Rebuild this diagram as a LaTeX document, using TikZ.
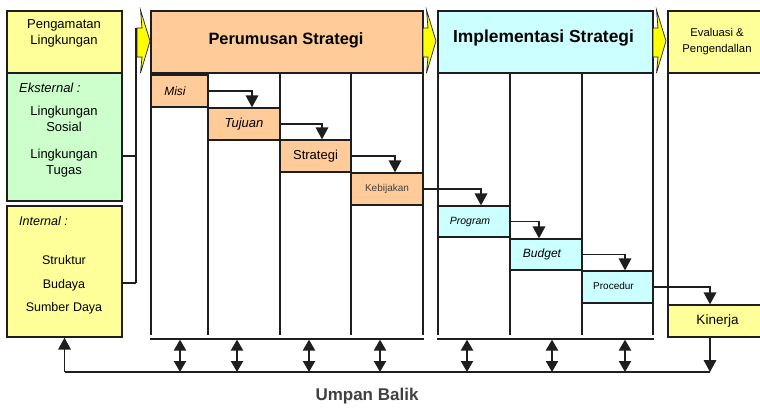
\documentclass[tikz,border=0pt]{standalone}
\usepackage{fontspec}
\setmainfont{Liberation Sans}
\usetikzlibrary{arrows.meta}

\definecolor{ink}{HTML}{1E1E1E}
\definecolor{paleyellow}{HTML}{FFFF99}
\definecolor{palegreen}{HTML}{CCFFCC}
\definecolor{peach}{HTML}{FFCC99}
\definecolor{palecyan}{HTML}{CCFFFF}
\definecolor{chevyellow}{HTML}{FFFF00}
\definecolor{softtext}{HTML}{404040}

\newcommand{\fs}[2]{\fontsize{#1}{#2}\selectfont}

\begin{document}
\begin{tikzpicture}[x=1pt,y=-1pt,
  box/.style={draw=ink, line width=1.2pt, inner sep=0pt},
  stepbox/.style={box, minimum height=32pt},
  rule/.style={draw=ink, line width=1.2pt},
  flow/.style={draw=ink, line width=1.7pt, -{Triangle[width=12.5pt,length=12pt]}},
  twoway/.style={draw=ink, line width=2.2pt,
    {Triangle[width=12pt,length=11pt]}-{Triangle[width=12pt,length=11pt]}},
  txt/.style={inner sep=0pt, align=center, text=black},
  chevron/.pic={
    \filldraw[fill=chevyellow, draw=ink, line width=0.7pt]
      (0,17) -- (5,17) -- (3.5,-1) -- (13,30) -- (3.5,62) -- (5,46) -- (0,46) -- cycle;
  }]

\path[use as bounding box, clip] (0,0) rectangle (760,407);
\fill[white] (0,0) rectangle (760,407);

% ---- left column: environment scanning
\node[box, fill=paleyellow, minimum width=115, minimum height=62] (pengamatan) at (64.5,42) {};
\node[box, fill=palegreen, minimum width=115, minimum height=128] (eksternal) at (64.5,137) {};
\node[box, fill=paleyellow, minimum width=115, minimum height=131] (internal) at (64.5,271.5) {};

\node[txt, font=\fs{13}{16}] (tPeng) at (64,33) {Pengamatan\\Lingkungan};
\node[txt, font=\fs{13}{16}\itshape, anchor=west] (tEks) at (19,88) {Eksternal :};
\node[txt, font=\fs{13}{16}] (tSos) at (64,119) {Lingkungan\\Sosial};
\node[txt, font=\fs{13}{16}] (tTug) at (64,163) {Lingkungan\\Tugas};
\node[txt, font=\fs{12.5}{15}\itshape, anchor=west] (tInt) at (19,221) {Internal :};
\node[txt, font=\fs{12.5}{15}] (tStr) at (64,260) {Struktur};
\node[txt, font=\fs{12.5}{15}] (tBud) at (64,285) {Budaya};
\node[txt, font=\fs{12.5}{15}] (tSum) at (64,308) {Sumber Daya};

% bus linking the environment boxes to the strategy stages
\coordinate (busTop) at (136,28);
\coordinate (busBot) at (136,283);
\draw[rule] (busTop) -- (busBot);
\draw[rule] ([yshift=-19pt]eksternal.east) -- ++(14,0);
\draw[rule] ([yshift=-11.5pt]internal.east) -- (busBot);

% ---- stage headers
\node[box, fill=peach, minimum width=272, minimum height=62] (perumusan) at (287,42) {};
\node[txt, font=\fs{16.4}{18}\bfseries] (tPer) at (286,40) {Perumusan Strategi};
\node[box, fill=palecyan, minimum width=215, minimum height=62] (implementasi) at (545.5,42) {};
\node[txt, font=\fs{17.4}{19}\bfseries] (tImp) at (543.5,38) {Implementasi Strategi};
\node[box, fill=paleyellow, minimum width=104, minimum height=62] (evaluasi) at (720,42) {};
\node[txt, font=\fs{11.3}{15.5}] (tEva) at (717,41.5) {Evaluasi \&\\Pengendallan};

\pic at (137,11) {chevron};
\pic at (423,11) {chevron};
\pic at (653,11) {chevron};

% ---- column rules
\foreach \cx in {151,208,280,351,423,438,510,582,653}
  \draw[rule] (\cx,73) -- (\cx,335);
\draw[rule] (668,73) -- (668,305);
\draw[rule] (150,339) -- (423.6,339);
\draw[rule] (437.4,339) -- (653.6,339);

% ---- steps
\node[stepbox, fill=peach, minimum width=57] (misi) at (179.5,91) {};
\node[txt, font=\fs{12}{14}\itshape] at (175,91) {Misi};
\node[stepbox, fill=peach, minimum width=72, font=\fs{13}{15}\itshape] (tujuan) at (244,124) {Tujuan};
\node[stepbox, fill=peach, minimum width=71, font=\fs{13}{15}] (strategi) at (315.5,156) {Strategi};
\node[stepbox, fill=peach, minimum width=72, font=\fs{10}{12}, text=softtext] (kebijakan) at (387,189) {Kebijakan};
\node[stepbox, fill=palecyan, minimum width=72, minimum height=31] (program) at (474,221.5) {};
\node[txt, font=\fs{10.5}{12}\itshape] at (470,221.5) {Program};
\node[stepbox, fill=palecyan, minimum width=72, minimum height=31] (budget) at (546,254.5) {};
\node[txt, font=\fs{12}{14}\itshape] at (542,254.5) {Budget};
\node[stepbox, fill=palecyan, minimum width=71] (procedur) at (617.5,287) {};
\node[txt, font=\fs{10}{12}] at (613.5,286) {Procedur};
\node[box, fill=paleyellow, minimum width=104, minimum height=32, font=\fs{13.5}{15}] (kinerja) at (720,321) {Kinerja\hspace*{5pt}};

% ---- cascade
\draw[flow] (misi.east) -| ([xshift=8pt]tujuan.north);
\draw[flow] (tujuan.east) -| ([xshift=6.5pt]strategi.north);
\draw[flow] (strategi.east) -| ([xshift=8pt]kebijakan.north);
\draw[flow] (kebijakan.east) -| ([xshift=7pt]program.north);
\draw[flow] (program.east) -| ([xshift=-7pt]budget.north);
\draw[flow] (budget.east) -| ([xshift=7.5pt]procedur.north);
\draw[flow] (procedur.east) -| ([xshift=-10pt]kinerja.north);

% ---- feedback loop
\coordinate (fbL) at (64.5,372);
\coordinate (fbR) at (710,372);
\draw[rule] (fbL) -- (fbR);
\draw[flow] (fbL) -- (internal.south);
\draw[flow] ([xshift=-10pt]kinerja.south) -- (fbR);
\foreach \ax in {180,237,309,380,467,552,625}
  \draw[twoway] (\ax,339.6) -- (\ax,372);

\node[txt, font=\fs{17}{19}\bfseries, text=softtext] (umpan) at (367,396) {Umpan Balik};

\end{tikzpicture}
\end{document}
